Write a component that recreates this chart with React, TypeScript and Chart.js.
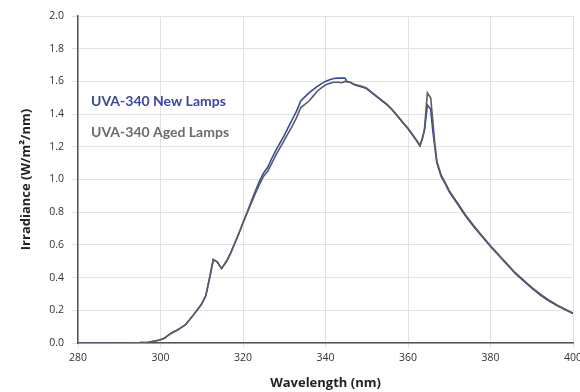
import React, { useEffect, useRef } from "react";
import { Chart, registerables } from "chart.js";

Chart.register(...registerables);

const wavelengths = [
  280, 285, 290, 295, 297, 299, 300, 301, 302, 303, 304, 305, 306, 307, 308, 309, 310, 311, 312,
  312.8, 313.8, 314.8, 316, 317, 318, 319, 320, 321, 322, 323, 324, 325, 326, 327, 328, 329, 330,
  331, 332, 333, 334, 335, 336, 337, 338, 339, 340, 341, 342, 343, 344, 344.7, 345.3, 346, 347,
  348, 349, 350, 351, 352, 353, 354, 355, 356, 357, 358, 359, 360, 361, 362, 362.9, 363.5, 364,
  364.7, 365.5, 366, 366.5, 367, 368, 369, 370, 372, 374, 376, 378, 380, 382, 384, 386, 388, 390,
  392, 394, 396, 398, 400,
];

const newLamps = [
  0, 0, 0, 0.002, 0.005, 0.014, 0.02, 0.03, 0.05, 0.066, 0.078, 0.094, 0.11, 0.14, 0.172, 0.205,
  0.24, 0.29, 0.41, 0.51, 0.495, 0.455, 0.5, 0.55, 0.61, 0.67, 0.735, 0.8, 0.865, 0.93, 0.99,
  1.04, 1.075, 1.13, 1.18, 1.225, 1.27, 1.32, 1.37, 1.42, 1.48, 1.505, 1.53, 1.55, 1.57, 1.585,
  1.6, 1.61, 1.618, 1.62, 1.62, 1.62, 1.598, 1.595, 1.58, 1.572, 1.565, 1.555, 1.535, 1.515,
  1.495, 1.475, 1.455, 1.43, 1.4, 1.37, 1.34, 1.31, 1.275, 1.24, 1.205, 1.25, 1.3, 1.455, 1.43,
  1.3, 1.2, 1.1, 1.02, 0.975, 0.925, 0.85, 0.775, 0.71, 0.65, 0.59, 0.535, 0.48, 0.425, 0.38,
  0.335, 0.295, 0.26, 0.23, 0.205, 0.18,
];

const agedLamps = [
  0, 0, 0, 0.002, 0.005, 0.014, 0.02, 0.03, 0.05, 0.066, 0.078, 0.094, 0.11, 0.14, 0.172, 0.205,
  0.24, 0.29, 0.41, 0.51, 0.495, 0.455, 0.5, 0.55, 0.61, 0.67, 0.735, 0.795, 0.855, 0.915, 0.97,
  1.02, 1.05, 1.1, 1.15, 1.195, 1.24, 1.285, 1.33, 1.38, 1.44, 1.46, 1.48, 1.51, 1.54, 1.56,
  1.578, 1.588, 1.595, 1.595, 1.592, 1.6, 1.598, 1.595, 1.582, 1.575, 1.568, 1.558, 1.538, 1.518,
  1.498, 1.478, 1.458, 1.433, 1.403, 1.373, 1.343, 1.313, 1.278, 1.243, 1.208, 1.255, 1.31,
  1.53, 1.5, 1.36, 1.22, 1.11, 1.03, 0.982, 0.932, 0.856, 0.781, 0.716, 0.655, 0.595, 0.54,
  0.485, 0.43, 0.385, 0.34, 0.3, 0.265, 0.234, 0.208, 0.183,
];

const seriesLabels = ["UVA-340 New Lamps", "UVA-340 Aged Lamps"];
const seriesColors = ["#3a47a3", "#5c5c5c"];
const legendColors = ["#3a47a3", "#6b6b6b"];
const xMin = 280;
const xMax = 400;
const xStep = 20;
const yMin = 0;
const yMax = 2.0;
const yStep = 0.2;
const xTitle = "Wavelength (nm)";
const yTitle = "Irradiance (W/m²/nm)";

const FONT = "Lato, 'Open Sans', sans-serif";
const TFONT = "'Open Sans', sans-serif";

const legendPlugin = {
  id: "insideLegend",
  afterDraw(chart: any) {
    const { ctx, chartArea } = chart;
    ctx.save();
    ctx.textAlign = "left";
    ctx.textBaseline = "middle";
    seriesLabels.forEach((label, i) => {
      ctx.font = `bold 14px ${FONT}`;
      ctx.fillStyle = legendColors[i];
      ctx.fillText(label, chartArea.left + 13, chartArea.top + 85 + i * 31);
    });
    ctx.restore();
  },
};

export default function App() {
  const ref = useRef<HTMLCanvasElement | null>(null);

  useEffect(() => {
    if (!ref.current) return;
    const toPoints = (vals: number[]) => wavelengths.map((x, i) => ({ x, y: vals[i] }));
    const chart = new Chart(ref.current, {
      type: "line",
      data: {
        datasets: [
          {
            label: seriesLabels[0],
            data: toPoints(newLamps),
            borderColor: seriesColors[0],
            borderWidth: 1.6,
            pointRadius: 0,
            tension: 0,
            order: 1,
          },
          {
            label: seriesLabels[1],
            data: toPoints(agedLamps),
            borderColor: seriesColors[1],
            borderWidth: 1.6,
            pointRadius: 0,
            tension: 0,
            order: 0,
          },
        ],
      },
      plugins: [legendPlugin],
      options: {
        animation: false,
        responsive: true,
        maintainAspectRatio: false,
        layout: { padding: { top: 16, right: 7, left: 0, bottom: 0 } },
        plugins: {
          legend: { display: false },
          tooltip: { enabled: false },
        },
        scales: {
          x: {
            type: "linear",
            min: xMin,
            max: xMax,
            ticks: {
              stepSize: xStep,
              color: "#333",
              font: { family: TFONT, size: 10.5 },
              padding: 4,
              maxRotation: 0,
            },
            grid: { color: "#e2e2e2", lineWidth: 1, tickLength: 5 },
            border: { display: true, color: "#555", width: 1.5 },
            title: {
              display: true,
              text: xTitle,
              color: "#222",
              font: { family: TFONT, size: 13, weight: "bold" },
              padding: { top: 9, bottom: 1 },
            },
            afterFit(scale: any) {
              scale.height = 49;
              scale.paddingLeft = 0;
              scale.paddingRight = 0;
            },
          },
          y: {
            min: yMin,
            max: yMax,
            ticks: {
              stepSize: yStep,
              color: "#333",
              font: { family: TFONT, size: 10.5 },
              padding: 8,
              callback: (v: any) => Number(v).toFixed(1),
            },
            grid: { color: "#e2e2e2", lineWidth: 1, tickLength: 6 },
            border: { display: true, color: "#555", width: 1.5 },
            title: {
              display: true,
              text: yTitle,
              color: "#222",
              font: { family: TFONT, size: 13, weight: "bold" },
              padding: { top: 18, bottom: 4 },
            },
            afterFit(scale: any) {
              scale.width = 78;
              scale.paddingTop = 0;
              scale.paddingBottom = 0;
            },
          },
        },
      },
    });
    return () => chart.destroy();
  }, []);

  return (
    <div style={{ position: "fixed", left: 0, top: 0, width: 580, height: 392, background: "#fff" }}>
      <canvas ref={ref} />
    </div>
  );
}
